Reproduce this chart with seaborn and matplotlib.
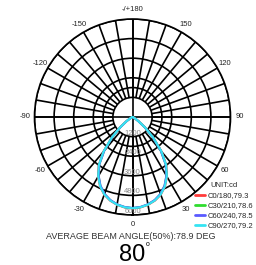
"""Polar luminous intensity distribution (candela) for four C-planes."""

import matplotlib
matplotlib.use("Agg")
import matplotlib.pyplot as plt
import numpy as np
import pandas as pd
import seaborn as sns

# gamma angle from nadir (deg) and intensity (cd) per C-plane, one half of the curve
GAMMA = [0, 5, 10, 15, 20, 25, 30, 35, 40, 45, 50, 55, 60, 65, 70, 75, 80, 85, 90]
C0_180 = [5600, 5560, 5460, 5300, 5060, 4700, 4220, 3620, 2780, 1830, 1020, 460, 160, 50, 20, 8, 4, 2, 0]
C30_210 = [5580, 5540, 5440, 5270, 5020, 4650, 4160, 3550, 2700, 1780, 990, 440, 150, 50, 20, 8, 4, 2, 0]
C60_240 = [5570, 5530, 5430, 5260, 5010, 4640, 4150, 3540, 2690, 1770, 980, 440, 150, 50, 20, 8, 4, 2, 0]
C90_270 = [5590, 5550, 5450, 5290, 5050, 4690, 4200, 3600, 2760, 1820, 1010, 450, 160, 50, 20, 8, 4, 2, 0]

PLANES = ["C0/180,79.3", "C30/210,78.6", "C60/240,78.5", "C90/270,79.2"]
COLORS = ["#ff3b3b", "#2fdc2f", "#5a5aff", "#35e3f2"]
RINGS = [1200, 1800, 2400, 3600, 4800, 6000]
RING_LABELS = [1200, 2400, 3600, 4800, 6000]
ANGLE_LABELS = ["0", "30", "60", "90", "120", "150", "-/+180", "-150", "-120", "-90", "-60", "-30"]


def build_frame():
    rows = []
    for name, values in zip(PLANES, [C0_180, C30_210, C60_240, C90_270]):
        for g, v in zip(GAMMA, values):
            rows.append({"theta": np.deg2rad(g), "cd": v, "plane": name})
            if g:
                rows.append({"theta": -np.deg2rad(g), "cd": v, "plane": name})
    return pd.DataFrame(rows)


sns.set_style("white")
plt.rcParams["font.family"] = ["Liberation Sans", "DejaVu Sans"]

fig = plt.figure(figsize=(2.56, 2.65), dpi=100)
ax = fig.add_axes([0.1348, 0.1887, 0.7656, 0.7396], projection="polar")
ax.set_theta_zero_location("S")
ax.set_theta_direction(1)
ax.set_ylim(0, RINGS[-1])

# grid: rings, spokes every 10 deg from the first ring, cross through centre
ax.set_yticks(RINGS)
ax.set_yticklabels([])
ax.yaxis.grid(True, color="black", linewidth=1.2)
ax.xaxis.grid(False)
spokes = np.deg2rad(np.arange(0, 360, 10))
ax.vlines(spokes, RINGS[0], RINGS[-1], color="black", linewidth=1.2, zorder=1)
ax.vlines(np.deg2rad([0, 90, 180, 270]), 0, RINGS[-1], color="black", linewidth=1.2, zorder=1)
ax.spines["polar"].set_linewidth(1.2)
ax.spines["polar"].set_color("black")

ax.set_thetagrids(np.arange(0, 360, 30), ANGLE_LABELS)
ax.tick_params(axis="x", pad=-4, labelsize=5.5, colors="#222222")

for r in RING_LABELS:
    ax.text(0, r, str(r), ha="center", va="bottom", fontsize=5.5, color="#888888", zorder=2)

df = build_frame()
sns.lineplot(data=df, x="theta", y="cd", hue="plane", palette=dict(zip(PLANES, COLORS)),
             errorbar=None, linewidth=1.5, ax=ax, legend=True, zorder=3)
ax.set_xlabel("")
ax.set_ylabel("")

handles, labels = ax.get_legend_handles_labels()
ax.get_legend().remove()
leg = fig.legend(handles, labels, title="UNIT:cd", loc="upper left",
                 bbox_to_anchor=(0.763, 0.312), frameon=False, fontsize=5.5,
                 title_fontsize=5.5, handlelength=1.3, handletextpad=0.3,
                 labelspacing=0.35, borderpad=0, borderaxespad=0)
for line in leg.get_lines():
    line.set_linewidth(2)

fig.text(0.51, 0.108, "AVERAGE BEAM ANGLE(50%):78.9 DEG", ha="center", va="center",
         fontsize=6.5, color="#333333")
fig.text(0.515, 0.038, "80", ha="center", va="center", fontsize=17, color="black")
fig.text(0.575, 0.077, "o", ha="center", va="center", fontsize=5, color="black")

fig.savefig("out.png", dpi=100)
